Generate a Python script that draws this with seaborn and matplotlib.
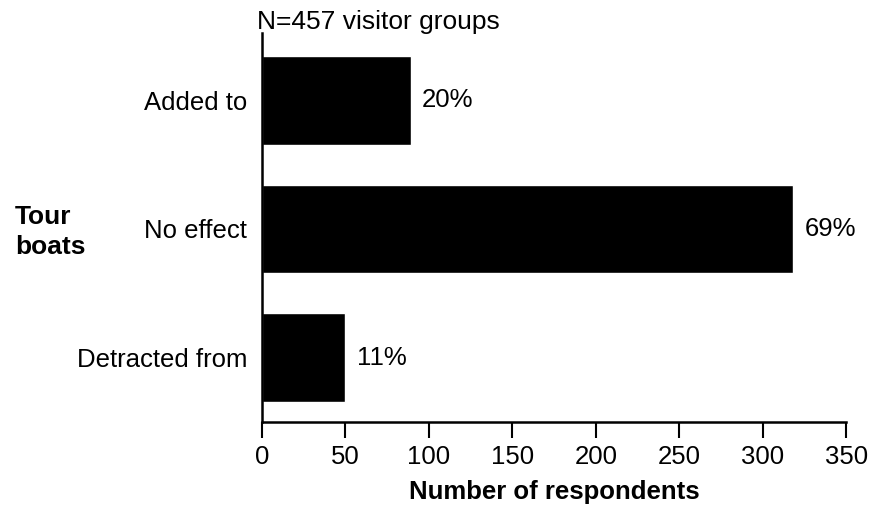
import matplotlib
matplotlib.use("Agg")
import matplotlib.pyplot as plt
import seaborn as sns
import pandas as pd

# -------------------------------
# Data
# -------------------------------
categories = ["Added to", "No effect", "Detracted from"]
respondents = [89, 318, 50]
percent_labels = ["20%", "69%", "11%"]

df = pd.DataFrame({"category": categories, "respondents": respondents})

sns.set_style("white")
plt.rcParams["font.family"] = ["Liberation Sans", "DejaVu Sans"]
plt.rcParams["text.color"] = "black"
plt.rcParams["xtick.color"] = "black"
plt.rcParams["ytick.color"] = "black"
plt.rcParams["axes.labelcolor"] = "black"
plt.rcParams["xtick.bottom"] = True

fig = plt.figure(figsize=(8.76, 5.11), dpi=100)
ax = fig.add_axes([0.299, 0.174, 0.667, 0.761])

sns.barplot(data=df, x="respondents", y="category", orient="h",
            color="black", width=0.69, saturation=1, ax=ax)

# percentage labels next to bars
for i, (v, lab) in enumerate(zip(respondents, percent_labels)):
    ax.text(v + 7, i, lab, va="center", ha="left", fontsize=18.5)

ax.set_xlim(0, 350)
ax.set_ylim(2.5, -0.52)
ax.set_xticks(range(0, 351, 50))
ax.tick_params(axis="x", bottom=True, direction="out", length=11.5, width=1.5,
               labelsize=18.5, pad=5)
ax.tick_params(axis="y", left=False, length=0, labelsize=18.5, pad=10.5)

sns.despine(ax=ax)
for s in ["left", "bottom"]:
    ax.spines[s].set_color("black")
    ax.spines[s].set_linewidth(1.8)

ax.set_xlabel("Number of respondents", fontsize=18.5, fontweight="bold", labelpad=8)
ax.set_ylabel("")

fig.text(0.017, 0.546, "Tour\nboats", fontsize=19, fontweight="bold",
         ha="left", va="center", linespacing=1.3)
fig.text(0.293, 0.957, "N=457 visitor groups", fontsize=19, ha="left", va="center")

fig.savefig("out.png", dpi=100, facecolor="white")
